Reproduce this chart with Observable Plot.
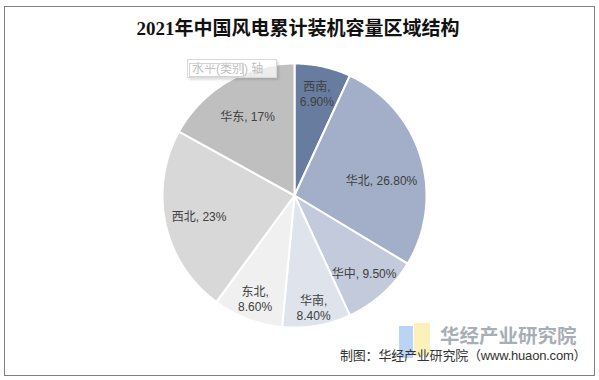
<!DOCTYPE html>
<html><head><meta charset="utf-8">
<script src="https://cdn.jsdelivr.net/npm/d3@7"></script>
<script src="https://cdn.jsdelivr.net/npm/@observablehq/plot@0.6"></script>
<style>
body{margin:0;background:#fff;}
#wrap{position:relative;width:599px;height:380px;overflow:hidden;font-family:"Liberation Sans","Noto Sans CJK SC",sans-serif;}
#frame{position:absolute;left:4px;top:6px;width:589px;height:368px;border:1px solid #808080;}
#title{position:absolute;left:0;width:596px;top:17px;text-align:center;font:bold 19px "Liberation Serif","Noto Sans CJK SC",serif;color:#111;line-height:24px;white-space:nowrap;}
#chart{position:absolute;left:0;top:50px;}
#ghost{position:absolute;left:187px;top:59px;width:90px;height:19px;border:1px solid #d9d9d9;box-shadow:2px 2px 2px rgba(0,0,0,0.12);background:rgba(255,255,255,0.7);font-size:12px;color:#bfbfbf;line-height:19px;padding-left:4px;box-sizing:border-box;white-space:nowrap;}
#ghost2{position:absolute;left:189px;top:63px;width:53px;height:12px;border:1px solid #d4d4d4;}
#logoB{position:absolute;left:399px;top:326px;width:14px;height:32px;background:#a9c9f2;opacity:0.8;}
#logoY{position:absolute;left:414px;top:323px;width:16px;height:33px;background:#fcefb4;opacity:0.9;}
#wm{position:absolute;left:440px;top:323px;font:bold 19.5px "Noto Sans CJK SC",sans-serif;color:#9aa1aa;opacity:0.85;line-height:24px;white-space:nowrap;}
#caption{position:absolute;left:340px;top:348px;font-size:13px;letter-spacing:-0.2px;color:#333;line-height:16px;white-space:nowrap;}
</style>
</head><body>
<div id="wrap">
  <div id="frame"></div>
  <div id="title"></div>
  <div id="chart"></div>
  <div id="ghost"></div>
  <div id="ghost2"></div>
  <div id="logoB"></div>
  <div id="logoY"></div>
  <div id="wm"></div>
  <div id="caption"></div>
</div>
<script>
const titleText = "2021年中国风电累计装机容量区域结构";
const regions = ["西南","华北","华中","华南","东北","西北","华东"];
const shares = [6.9, 26.8, 9.5, 8.4, 8.6, 23, 17];
const shareLabels = ["6.90%","26.80%","9.50%","8.40%","8.60%","23%","17%"];
const colors = ["#687ca0","#a3afc8","#c3cadb","#dfe3ec","#f0f0f0","#d8d8d8","#bfbfbf"];
const ghostText = "水平(类别) 轴";
const watermarkText = "华经产业研究院";
const captionText = "制图：华经产业研究院（www.huaon.com）";

// layout only
const twoLine = [true,false,false,true,true,false,false];
const labelR = [0.79,0.67,0.79,0.86,0.84,0.74,0.70];
const labelShift = [0,0.12,0,0,0,0,0]; // radians

document.getElementById("title").textContent = titleText;
document.getElementById("ghost").textContent = ghostText;
document.getElementById("wm").textContent = watermarkText;
document.getElementById("caption").textContent = captionText;

const W = 599, H = 290, cx = 294, cy = 145, R = 132;
const arcs = d3.pie().sort(null).value(d => d)(shares);
const pts = [];
const labels = [];
arcs.forEach((a, i) => {
  const reg = regions[i];
  pts.push({region: reg, x: 0, y: 0});
  const n = Math.max(2, Math.ceil((a.endAngle - a.startAngle) / 0.01));
  for (let k = 0; k <= n; k++) {
    const t = a.startAngle + (a.endAngle - a.startAngle) * k / n;
    pts.push({region: reg, x: Math.sin(t), y: Math.cos(t)});
  }
  pts.push({region: reg, x: 0, y: 0});
  const mid = (a.startAngle + a.endAngle) / 2 + labelShift[i];
  labels.push({
    x: labelR[i] * Math.sin(mid),
    y: labelR[i] * Math.cos(mid),
    text: twoLine[i] ? `${reg},\n${shareLabels[i]}` : `${reg}, ${shareLabels[i]}`
  });
});

const chart = Plot.plot({
  width: W, height: H, margin: 0,
  style: {fontFamily: '"Liberation Sans","Noto Sans CJK SC",sans-serif', background: "transparent"},
  x: {domain: [-cx / R, (W - cx) / R], range: [0, W], axis: null},
  y: {domain: [-(H - cy) / R, cy / R], range: [H, 0], axis: null},
  color: {domain: regions, range: colors},
  marks: [
    Plot.line(pts, {x: "x", y: "y", z: "region", fill: "region", stroke: "white", strokeWidth: 2, strokeLinejoin: "miter", curve: "linear"}),
    Plot.text(labels, {x: "x", y: "y", text: "text", fill: "#404040", fontSize: 12, lineHeight: 1.25})
  ]
});
document.getElementById("chart").appendChild(chart);
</script>
</body></html>
